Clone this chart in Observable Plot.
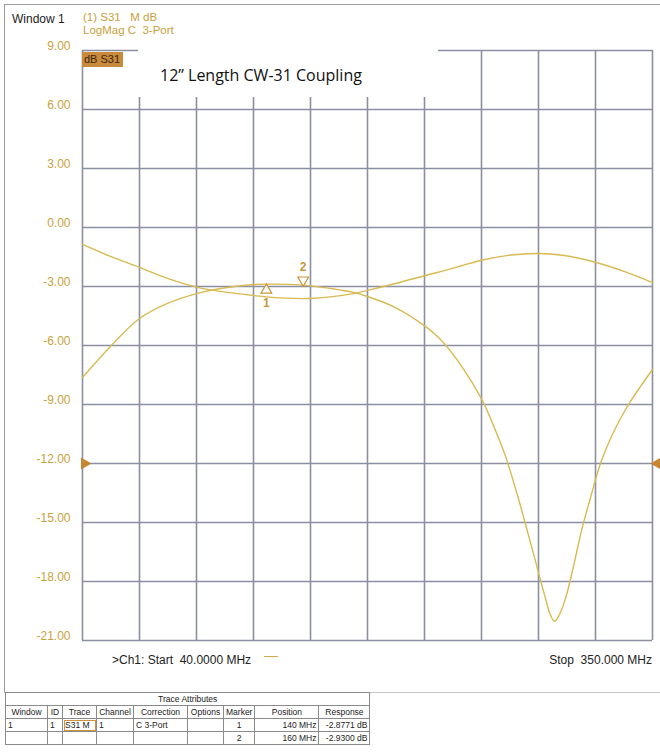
<!DOCTYPE html>
<html>
<head>
<meta charset="utf-8">
<script src="https://cdn.jsdelivr.net/npm/d3@7"></script>
<script src="https://cdn.jsdelivr.net/npm/@observablehq/plot@0.6"></script>
<style>
  html, body { margin: 0; padding: 0; background: #fff; }
  #wrap { position: relative; width: 660px; height: 752px; overflow: hidden; font-family: "Liberation Sans", Arial, sans-serif; }
  #wrap svg { position: absolute; left: 0; top: 0; }
  .ov { position: absolute; white-space: pre; }
  #frame { left: 4px; top: 4px; width: 670px; height: 687px; border-left: 1px solid #9a9a9a; border-top: 1px solid #9a9a9a; border-bottom: 1px solid #c4c4c4; }
  #win { left: 12px; top: 12px; font-size: 12px; color: #222; }
  #hdr { left: 83px; top: 11px; font-size: 11.5px; line-height: 13px; color: #c9a13b; }
  #dbs { left: 82px; top: 52px; font-size: 11px; background: #c98a3a; color: #3a2812; padding: 1px 3px 1px 2px; line-height: 13px; }
  #title { left: 138px; top: 48px; width: 300px; height: 49px; background: #fff; }
  #title span { position: absolute; left: 22px; top: 16px; font-family: "Open Sans", "Noto Sans", sans-serif; font-size: 16px; color: #111; }
  #start { left: 112px; top: 653px; font-size: 12px; color: #222; }
  #dash { left: 264px; top: 656px; width: 14px; height: 0; border-top: 1.5px solid #d8a84a; }
  #stop { right: 8px; top: 653px; font-size: 12px; color: #222; }
  #tbl { left: 5px; top: 692px; }
  #tbl table { border-collapse: collapse; font-size: 8.5px; color: #222; table-layout: fixed; }
  #tbl td { border: 1px solid #8a8a8a; padding: 0 2px; height: 12px; line-height: 12px; overflow: hidden; white-space: nowrap; }
  #tbl .c { text-align: center; }
  #tbl .r { text-align: right; }
  #tbl .hl { outline: 1.5px solid #d2923a; outline-offset: -2px; }
</style>
</head>
<body>
<div id="wrap"></div>
<script>
// ---- data ----
const freqA = [40, 55.2, 71, 86.2, 102, 115.1, 133, 147.7, 163.5, 174.9, 187.4, 195, 210.2, 226.5, 234.7, 245.6, 257.5, 272.8, 288.5, 300, 319.5, 335.3, 350];
const dbA   = [-0.86, -1.47, -2.03, -2.59, -3.03, -3.25, -3.46, -3.58, -3.61, -3.53, -3.36, -3.2, -2.85, -2.44, -2.24, -1.96, -1.65, -1.40, -1.32, -1.40, -1.78, -2.26, -2.8];

const freqB = [40, 55.2, 71, 86.2, 102, 115, 133, 140, 160, 175, 187.4, 195, 210.2, 226.5, 234.7, 245.6, 257.5, 264.6, 270.1, 276.6, 282, 286.4, 289.1, 291.8, 294, 296.7, 299.4, 302.7, 307, 311.4, 316.3, 321.7, 327.2, 332.6, 338, 343.5, 350];
const dbB   = [-7.63, -6.05, -4.63, -3.86, -3.36, -3.1, -2.9, -2.8771, -2.93, -3.1, -3.3, -3.51, -4.07, -5.03, -5.69, -6.97, -8.8, -10.32, -11.64, -13.63, -15.46, -16.98, -17.95, -18.86, -19.58, -20.03, -19.68, -18.86, -17.24, -15.41, -13.73, -12.0, -10.73, -9.71, -8.85, -8.08, -7.22];

const markerIds  = [1, 2];
const markerFreq = [140, 160];
const markerResp = [-2.8771, -2.93];

const xTicks = [40, 71, 102, 133, 164, 195, 226, 257, 288, 319, 350];
const yTicks = [9, 6, 3, 0, -3, -6, -9, -12, -15, -18, -21];
const refLevel = -12;

const headerLines = ["(1) S31   M dB", "LogMag C  3-Port"];
const titleText = "12\u201D Length CW-31 Coupling";
const startText = ">Ch1: Start  40.0000 MHz";
const stopText = "Stop  350.000 MHz";
const tableHead = ["Window", "ID", "Trace", "Channel", "Correction", "Options", "Marker", "Position", "Response"];
const tableRow1 = ["1", "1", "S31 M", "1", "C 3-Port", "", "1", "140 MHz", "-2.8771 dB"];
const tableRow2 = ["", "", "", "", "", "", "2", "160 MHz", "-2.9300 dB"];

// ---- build ----
const traceA = freqA.map((f, i) => ({f, db: dbA[i]}));
const traceB = freqB.map((f, i) => ({f, db: dbB[i]}));
const markers = markerIds.map((id, i) => ({id, f: markerFreq[i], db: markerResp[i]}));
const m1 = markers.filter(d => d.id === 1);
const m2 = markers.filter(d => d.id === 2);

const gridColor = "#8a90a2";
const traceColor = "#d8ba50";
const markColor = "#c8963c";

const svg = Plot.plot({
  width: 660,
  height: 752,
  marginLeft: 82,
  marginRight: 8,
  marginTop: 50,
  marginBottom: 112,
  style: {background: "transparent", fontFamily: "Liberation Sans, Arial, sans-serif"},
  x: {domain: [40, 350], axis: null},
  y: {domain: [-21, 9], axis: null},
  marks: [
    Plot.ruleX(xTicks, {stroke: gridColor, strokeWidth: 1.6}),
    Plot.ruleY(yTicks, {stroke: gridColor, strokeWidth: 1.6}),
    Plot.axisY({ticks: yTicks, tickFormat: d => d.toFixed(2), tickSize: 0, tickPadding: 12,
                fill: "#c9a23c", fontSize: 12, dy: -4, label: null}),
    Plot.line(traceA, {x: "f", y: "db", stroke: traceColor, strokeWidth: 1.4, curve: "catmull-rom"}),
    Plot.line(traceB, {x: "f", y: "db", stroke: traceColor, strokeWidth: 1.4, curve: "catmull-rom"}),
    Plot.dot(m1, {x: "f", y: "db", symbol: "triangle", r: 4, fill: "white", stroke: markColor, strokeWidth: 1.2, dy: 6}),
    Plot.dot(m2, {x: "f", y: "db", symbol: "triangle", rotate: 180, r: 4, fill: "white", stroke: markColor, strokeWidth: 1.2, dy: -5}),
    Plot.text(m1, {x: "f", y: "db", text: d => String(d.id), dy: 19, fill: markColor, fontSize: 12, fontWeight: "bold"}),
    Plot.text(m2, {x: "f", y: "db", text: d => String(d.id), dy: -18, fill: markColor, fontSize: 12, fontWeight: "bold"}),
    Plot.dot([{f: 40, db: refLevel}], {x: "f", y: "db", symbol: "triangle", rotate: 90, r: 4.5, fill: "#c8862e", dx: 2}),
    Plot.dot([{f: 350, db: refLevel}], {x: "f", y: "db", symbol: "triangle", rotate: -90, r: 4.5, fill: "#c8862e", dx: 5})
  ]
});

const wrap = document.getElementById("wrap");
wrap.appendChild(svg);

function ov(id, html) {
  const d = document.createElement("div");
  d.className = "ov"; d.id = id; d.innerHTML = html;
  wrap.appendChild(d);
  return d;
}
ov("frame", "");
ov("win", "Window 1");
ov("hdr", headerLines.join("\n"));
ov("title", "<span>" + titleText + "</span>");
ov("dbs", "dB S31");
ov("start", startText.replace(">", "&gt;"));
ov("dash", "");
ov("stop", stopText);

const widths = [42, 15, 34, 37, 54, 36, 30, 64, 51];
let t = "<table><colgroup>" + widths.map(w => `<col style="width:${w}px">`).join("") + "</colgroup>";
t += `<tr><td class="c" colspan="9">Trace Attributes</td></tr>`;
t += "<tr>" + tableHead.map(h => `<td class="c">${h}</td>`).join("") + "</tr>";
const align = ["", "", "", "", "", "", "c", "r", "r"];
t += "<tr>" + tableRow1.map((v, i) => `<td class="${align[i]}${i === 2 ? " hl" : ""}">${v}</td>`).join("") + "</tr>";
t += "<tr>" + tableRow2.map((v, i) => `<td class="${align[i]}">${v}</td>`).join("") + "</tr>";
t += "</table>";
ov("tbl", t);
</script>
</body>
</html>
